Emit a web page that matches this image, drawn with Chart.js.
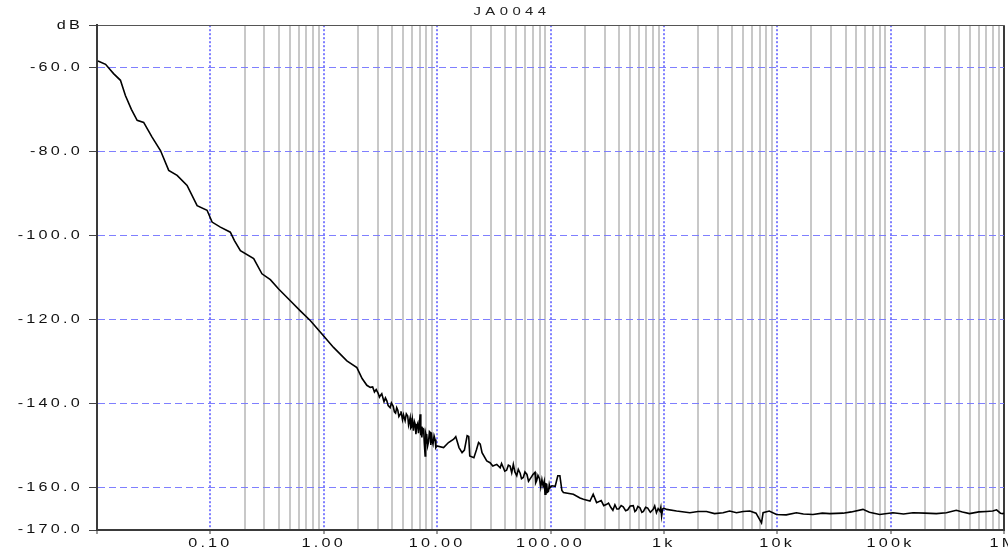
<!DOCTYPE html>
<html>
<head>
<meta charset="utf-8">
<script src="https://cdn.jsdelivr.net/npm/chart.js@4.4.1/dist/chart.umd.min.js"></script>
<style>
  html, body { margin: 0; padding: 0; background: #fff; }
  #c { display: block; }
</style>
</head>
<body>
<canvas id="c" width="1008" height="551" style="width:1008px;height:551px"></canvas>
<script>
// ---------------- data ----------------
const chartTitle = 'JA0044';

const freqHz = [
  0.0102, 0.0119, 0.0140, 0.0161, 0.0178, 0.0201, 0.0226, 0.0258, 0.0306, 0.0363,
  0.0429, 0.0509, 0.0623, 0.0764, 0.0935, 0.1035, 0.1225, 0.150, 0.163, 0.184,
  0.241, 0.285, 0.338, 0.400, 0.507, 0.621, 0.760, 0.964, 1.22, 1.60,
  1.96, 2.18, 2.4, 2.57, 2.7, 2.8, 2.9, 3.02, 3.1, 3.15,
  3.25, 3.4, 3.5, 3.6, 3.7, 3.85, 3.95, 4.1, 4.2, 4.3,
  4.4, 4.5, 4.6, 4.72, 4.8, 4.95, 5.05, 5.22, 5.35, 5.5,
  5.6, 5.78, 5.85, 5.95, 6.05, 6.18, 6.3, 6.4, 6.5, 6.62,
  6.75, 6.85, 6.95, 7.08, 7.15, 7.2, 7.28, 7.33, 7.45, 7.6,
  7.7, 7.84, 7.92, 8.0, 8.05, 8.11, 8.25, 8.4, 8.55, 8.68,
  8.8, 8.9, 9.05, 9.2, 9.4, 9.6, 9.75, 9.95, 11.4, 12.6,
  14.0, 14.6, 15.6, 16.6, 17.4, 18.4, 19.0, 19.4, 21.1, 22.2,
  23.2, 24.0, 24.9, 27.4, 29.3, 31.0, 33.6, 36, 37, 38.4,
  39.5, 41, 42.5, 44, 45.5, 47.0, 48.5, 50.4, 52, 54,
  55.5, 57.5, 59.5, 62, 64, 67, 70, 73.0, 74, 75.5,
  77.5, 80, 82, 84, 86, 88, 89.5, 91, 92.6, 94,
  96, 97.5, 99, 103, 110, 116, 121, 126, 130, 159,
  182, 195, 223, 238, 255, 280, 295, 313, 325, 340,
  355, 370, 385, 400, 420, 438, 460, 480, 505, 537,
  555, 570, 590, 615, 640, 660, 690, 720, 760, 805,
  830, 860, 890, 923, 940, 955, 975, 1000, 1057, 1294,
  1695, 2000, 2377, 2800, 3327, 3800, 4372, 5000, 5728, 6500,
  7263, 7500, 8500, 9840, 12000, 14760, 17000, 20650, 25000, 29040,
  38000, 45000, 57020, 65000, 80000, 104700, 130000, 157400, 200000, 252900,
  310000, 379300, 430000, 496600, 600000, 700000, 796200, 860000, 930000, 975500,
  1000000
];

const levelDb = [
  -58.5, -59.3, -61.5, -63.1, -66.7, -70.0, -72.6, -73.1, -76.6, -79.8,
  -84.5, -85.7, -88.1, -92.9, -94.0, -96.8, -98.0, -99.2, -101.2, -103.6,
  -105.5, -109.1, -110.5, -112.7, -115.5, -117.9, -120.2, -123.4, -126.6, -129.8,
  -131.4, -134.0, -135.6, -136.1, -136.0, -137.2, -136.6, -137.5, -138.4, -138.1,
  -137.6, -139.5, -138.6, -139.3, -140.4, -140.9, -139.8, -140.6, -141.9, -142.2,
  -140.9, -141.5, -143.0, -142.5, -141.8, -143.8, -142.6, -144.0, -142.4, -142.9,
  -145.0, -143.3, -145.8, -145.5, -143.8, -146.4, -144.2, -144.8, -147.2, -145.2,
  -144.6, -147.0, -145.6, -142.5, -146.6, -147.5, -145.4, -148.0, -145.8, -146.0,
  -149.2, -152.4, -147.0, -147.5, -149.5, -147.2, -150.0, -149.0, -146.6, -146.8,
  -149.8, -146.8, -148.9, -149.6, -147.6, -148.5, -150.4, -150.0, -150.4, -149.2,
  -148.4, -147.8, -150.4, -151.6, -151.0, -147.6, -147.8, -152.4, -152.8, -151.0,
  -149.2, -149.6, -151.6, -153.6, -154.0, -154.8, -154.4, -155.2, -154.2, -155.2,
  -156.0, -155.8, -154.6, -154.8, -156.4, -154.4, -156.2, -157.1, -155.6, -156.5,
  -157.8, -157.5, -156.2, -156.8, -158.4, -157.6, -156.8, -156.3, -158.8, -158.3,
  -157.0, -157.8, -159.8, -158.0, -159.5, -158.4, -161.5, -159.0, -159.1, -161.0,
  -160.8, -159.2, -160.0, -159.5, -159.6, -157.1, -157.1, -160.6, -161.1, -161.5,
  -162.4, -162.7, -163.1, -161.5, -163.5, -163.0, -164.2, -163.9, -163.6, -164.6,
  -165.3, -164.0, -165.0, -165.0, -164.2, -164.5, -165.4, -165.2, -164.3, -164.2,
  -165.6, -165.3, -164.4, -164.7, -165.8, -165.6, -164.6, -164.8, -165.8, -165.1,
  -164.3, -165.9, -164.9, -165.5, -164.6, -166.7, -165.0, -164.8, -165.1, -165.5,
  -165.9, -165.6, -165.6, -166.1, -165.9, -165.5, -165.9, -165.6, -165.5, -166.0,
  -168.3, -165.9, -165.5, -166.3, -166.4, -165.9, -166.2, -166.3, -166.0, -166.1,
  -166.0, -165.7, -165.1, -165.8, -166.3, -165.9, -166.2, -165.9, -166.0, -166.1,
  -165.9, -165.3, -165.7, -166.1, -165.7, -165.6, -165.5, -165.2, -166.0, -166.1,
  -166.0
];

const xDecadeTicks  = [0.01, 0.1, 1, 10, 100, 1000, 10000, 100000, 1000000];
const xDecadeLabels = ['', '0.10', '1.00', '10.00', '100.00', '1k', '10k', '100k', '1M'];
const xMinorDecades = [0.1, 1, 10, 100, 1000, 10000, 100000];
const xMinorSteps   = [2, 3, 4, 5, 6, 7, 8, 9];

const yTicks  = [-170, -160, -140, -120, -100, -80, -60, -50];
const yLabels = ['-170.0', '-160.0', '-140.0', '-120.0', '-100.0', '-80.0', '-60.0', 'dB'];

// ---------------- chart ----------------
const xMinorTicks = [];
xMinorDecades.forEach(d => xMinorSteps.forEach(m => xMinorTicks.push(m * d)));
const xAllTicks = xDecadeTicks.concat(xMinorTicks).sort((a, b) => a - b);
const isDecade = v => xDecadeTicks.includes(v);

const BLUE = 'rgba(120,120,255,0.95)';
const GRAY = '#c8c8c8';
const DARK = '#3a3a3a';
const FONT = { family: '"Liberation Sans", Arial, sans-serif', size: 12 };

// the reference text is drawn wide: stretch glyphs horizontally around their anchor
const canvas = document.getElementById('c');
const c2d = canvas.getContext('2d');
const baseFillText = c2d.fillText.bind(c2d);
const TEXT_STRETCH = 1.35;
c2d.fillText = function (t, x, y) {
  this.save();
  this.translate(x, y);
  this.scale(TEXT_STRETCH, 1);
  baseFillText(t, 0, 0);
  this.restore();
};

const spacingPlugin = {
  id: 'spacing',
  beforeDraw(chart) { chart.ctx.letterSpacing = '2.4px'; }
};

const chart = new Chart(canvas, {
  type: 'line',
  data: {
    datasets: [{
      data: freqHz.map((f, i) => ({ x: f, y: levelDb[i] })),
      borderColor: '#000',
      borderWidth: 1.6,
      pointRadius: 0,
      tension: 0,
      fill: false
    }]
  },
  options: {
    responsive: false,
    animation: false,
    devicePixelRatio: 1,
    layout: { padding: { left: 0, right: 4, top: 0, bottom: 0 } },
    plugins: {
      legend: { display: false },
      tooltip: { enabled: false },
      title: {
        display: true,
        text: chartTitle,
        color: '#222',
        font: { family: '"Liberation Sans", Arial, sans-serif', size: 11, weight: 'normal' },
        padding: { top: 5, bottom: 7 }
      }
    },
    scales: {
      x: {
        type: 'logarithmic',
        min: 0.01,
        max: 1000000,
        afterBuildTicks(scale) { scale.ticks = xAllTicks.map(v => ({ value: v })); },
        afterFit(scale) { scale.height = 21; scale.paddingLeft = 0; scale.paddingRight = 0; },
        ticks: {
          autoSkip: false,
          maxRotation: 0,
          minRotation: 0,
          padding: 2,
          color: '#111',
          font: FONT,
          callback(value) {
            const i = xDecadeTicks.indexOf(value);
            return i >= 0 ? xDecadeLabels[i] : '';
          }
        },
        grid: {
          color(ctx) {
            const v = ctx.tick && ctx.tick.value;
            if (v === 0.01) return 'rgba(0,0,0,0)';
            if (v === 1000000) return DARK;
            return isDecade(v) ? BLUE : GRAY;
          },
          lineWidth: 2,
          tickColor(ctx) {
            const v = ctx.tick && ctx.tick.value;
            return isDecade(v) ? DARK : 'rgba(0,0,0,0)';
          },
          tickWidth: 1,
          tickLength: 4,
          tickBorderDash: []
        },
        border: {
          display: true,
          color: DARK,
          width: 2,
          dash(ctx) {
            const v = ctx.tick && ctx.tick.value;
            return (isDecade(v) && v !== 1000000) ? [2, 2] : [];
          }
        }
      },
      y: {
        type: 'linear',
        min: -170,
        max: -50,
        afterBuildTicks(scale) { scale.ticks = yTicks.map(v => ({ value: v })); },
        afterFit(scale) { scale.width = 97; scale.paddingTop = 0; scale.paddingBottom = 0; },
        ticks: {
          padding: 6,
          color: '#111',
          font: FONT,
          callback(value) {
            const i = yTicks.indexOf(value);
            return i >= 0 ? yLabels[i] : '';
          }
        },
        grid: {
          color(ctx) {
            const v = ctx.tick && ctx.tick.value;
            if (v === -170) return 'rgba(0,0,0,0)';
            if (v === -50) return '#555';
            return BLUE;
          },
          lineWidth: 1,
          tickColor: '#444',
          tickWidth: 1,
          tickLength: 8,
          tickBorderDash: []
        },
        border: {
          display: true,
          color: DARK,
          width: 2,
          dash(ctx) {
            const v = ctx.tick && ctx.tick.value;
            return (v === -50 || v === -170) ? [] : [7, 4];
          }
        }
      }
    }
  },
  plugins: [spacingPlugin]
});

// letter spacing for the title only
const tb = chart.titleBlock;
if (tb) {
  const origDraw = tb.draw.bind(tb);
  tb.draw = function () {
    const c = chart.ctx;
    const prev = c.letterSpacing;
    c.save();
    c.letterSpacing = '3.3px';
    c.translate(10, 0);
    origDraw();
    c.restore();
    c.letterSpacing = prev;
  };
  chart.draw();
}
</script>
</body>
</html>
